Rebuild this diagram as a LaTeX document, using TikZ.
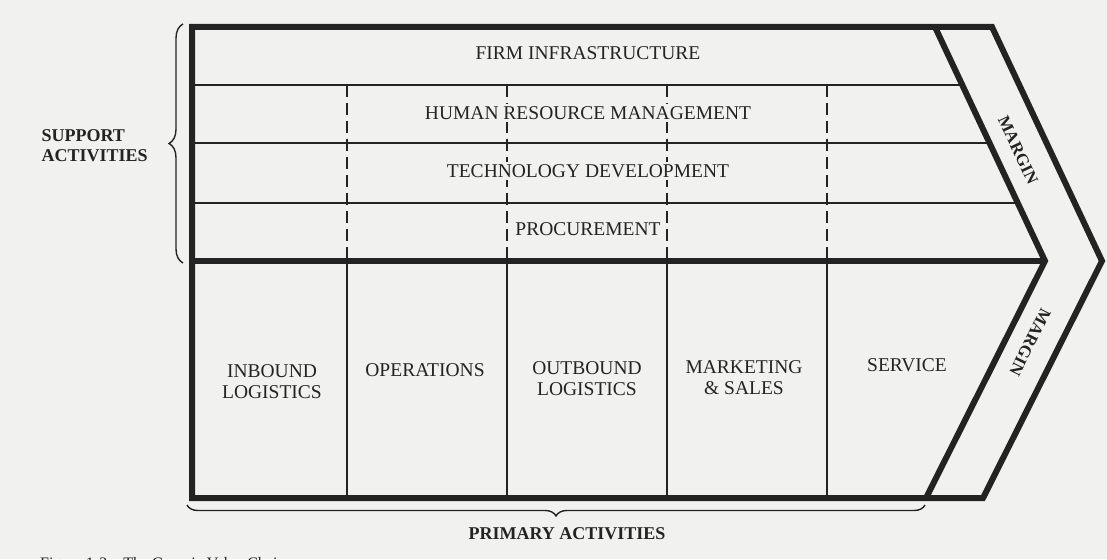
\documentclass[tikz,border=0pt]{standalone}
\usepackage{fontspec}
\setmainfont{Liberation Serif}
\usetikzlibrary{decorations.pathreplacing}
\definecolor{paper}{RGB}{241,241,240}
\definecolor{ink}{RGB}{35,35,35}
\tikzset{
	heavy/.style={ink, line width=6pt, line join=miter},
	light/.style={ink, line width=1.6pt},
	dashdiv/.style={ink, line width=1.4pt, dash pattern=on 12pt off 6pt},
	actlabel/.style={ink, font=\fontsize{19.5}{21}\selectfont, align=center},
	sidelabel/.style={ink, font=\bfseries\fontsize{18}{20}\selectfont, align=left},
	bracket/.style={ink, line width=1.4pt, decorate, decoration={brace, amplitude=11pt}},
}
\begin{document}
\begin{tikzpicture}[x=1pt,y=-1pt]
	\fill[paper] (0,0) rectangle (1107,559);
	\useasboundingbox (0,0) rectangle (1107,559);

	% corners of the chain
	\coordinate (tl) at (192,27);
	\coordinate (ml) at (192,261);
	\coordinate (bl) at (192,498);
	\coordinate (itop) at (935,27);
	\coordinate (ipt) at (1045,261);
	\coordinate (ibot) at (926,498);
	\coordinate (otop) at (992,27);
	\coordinate (opt) at (1102,261);
	\coordinate (obot) at (983,498);

	% rows of the support activities
	\foreach \y in {85,143,203}
		\draw[light] (192,\y) -- ({935+0.47*(\y-27)},\y);

	% dividers: dashed above, solid below
	\foreach \x in {347,507,667,827} {
		\draw[dashdiv] (\x,85) -- (\x,261);
		\draw[light] (\x,261) -- (\x,498);
	}

	\node[actlabel, fill=paper, inner sep=2pt] (firm) at (588,53) {FIRM INFRASTRUCTURE};
	\node[actlabel, fill=paper, inner sep=2pt] (hrm) at (588,113) {HUMAN RESOURCE MANAGEMENT};
	\node[actlabel, fill=paper, inner sep=2pt] (tech) at (588,171) {TECHNOLOGY DEVELOPMENT};
	\node[actlabel, fill=paper, inner sep=2pt] (proc) at (588,229) {PROCUREMENT};

	% outline and margin chevron
	\draw[heavy] (otop) -- (tl) -- (bl) -- (obot) -- (opt) -- cycle;
	\draw[heavy] (itop) -- (ipt) -- (ibot);
	\draw[heavy] (ml) -- (ipt);

	\node[actlabel] (inbound) at (272,382) {INBOUND\\LOGISTICS};
	\node[actlabel] (ops) at (425,370) {OPERATIONS};
	\node[actlabel] (outbound) at (587,379) {OUTBOUND\\LOGISTICS};
	\node[actlabel] (mkt) at (744,378) {MARKETING\\\& SALES};
	\node[actlabel] (service) at (907,365) {SERVICE};

	\node[sidelabel, font=\bfseries\fontsize{17}{20}\selectfont, rotate=-64.8] (marginup) at (1018,150) {MARGIN};
	\node[sidelabel, font=\bfseries\fontsize{17}{20}\selectfont, rotate=-116.6] (margindown) at (1030,342) {MARGIN};

	% braces
	\draw[bracket, decoration={amplitude=14pt}] (183,263) -- (183,24);
	\node[sidelabel, anchor=west] (support) at (38,146) {SUPPORT\\ACTIVITIES};
	\draw[bracket] (925,505) -- (187,505);
	\node[sidelabel] (primary) at (567,534) {PRIMARY ACTIVITIES};

	\begin{scope}
		\clip (0,0) rectangle (1107,559);
		\node[ink, font=\fontsize{16}{20}\selectfont, anchor=north west, inner sep=0pt] (caption) at (40,557) {Figure 1-2\quad The Generic Value Chain};
	\end{scope}
\end{tikzpicture}
\end{document}
